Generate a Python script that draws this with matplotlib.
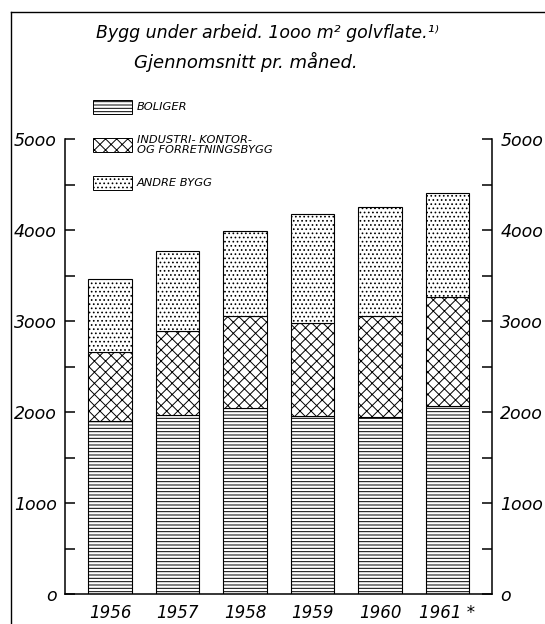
import numpy as np
import matplotlib
matplotlib.use("Agg")
import matplotlib.pyplot as plt
from matplotlib.patches import Rectangle
from matplotlib.lines import Line2D

# data (1000 m2 golvflate, gjennomsnitt pr. maned)
years = ["1956", "1957", "1958", "1959", "1960", "1961 *"]
boliger = [1900, 1970, 2040, 1955, 1945, 2065]
industri = [760, 925, 1015, 1025, 1110, 1195]
andre = [800, 875, 935, 1195, 1195, 1145]

plt.rcParams["font.family"] = ["DejaVu Sans"]
plt.rcParams["font.style"] = "italic"
plt.rcParams["hatch.linewidth"] = 0.7
plt.rcParams["hatch.color"] = "black"

W, H = 545, 624
fig = plt.figure(figsize=(W / 100, H / 100), dpi=100)

# axes box from pixel positions
left, right, top, bottom = 65, 492, 139, 594
ax = fig.add_axes([left / W, 1 - bottom / H, (right - left) / W, (bottom - top) / H])

x = np.arange(len(years))
bw = 0.65
b1 = np.array(boliger)
b2 = b1 + np.array(industri)

ax.bar(x, boliger, bw, color="white", edgecolor="black", linewidth=0.8, hatch="-----")
ax.bar(x, industri, bw, bottom=b1, color="white", edgecolor="black", linewidth=0.8, hatch="xxx")
ax.bar(x, andre, bw, bottom=b2, color="white", edgecolor="black", linewidth=0.8, hatch="....")

ax.set_xlim(-0.667, len(years) - 1 + 0.66)
ax.set_ylim(0, 5000)
ax.spines["top"].set_visible(False)
for s in ["left", "right", "bottom"]:
    ax.spines[s].set_linewidth(1.1)

ax.set_yticks([0, 1000, 2000, 3000, 4000, 5000])
ax.set_yticklabels(["o", "1ooo", "2ooo", "3ooo", "4ooo", "5ooo"], fontsize=12.5)
ax.set_yticks([500, 1500, 2500, 3500, 4500], minor=True)
ax.tick_params(axis="y", which="both", direction="in", length=7, width=1.1, pad=6,
               left=True, right=True, labelleft=True, labelright=True)
ax.tick_params(axis="x", length=0, pad=7, labelsize=12)
ax.set_xticks(x)
ax.set_xticklabels(years)

# title
fig.text(267 / W, 1 - 33 / H, "Bygg under arbeid. 1ooo m² golvflate.¹⁾",
         ha="center", va="center", fontsize=12.5)
fig.text(246 / W, 1 - 62 / H, "Gjennomsnitt pr. måned.",
         ha="center", va="center", fontsize=13)

# legend drawn by hand
leg = [("-----", "BOLIGER", 107),
       ("xxx", "INDUSTRI- KONTOR-\nOG FORRETNINGSBYGG", 145),
       ("....", "ANDRE BYGG", 183)]
for hatch, label, yc in leg:
    r = Rectangle((93 / W, 1 - (yc + 7) / H), 39 / W, 14 / H, transform=fig.transFigure,
                  facecolor="white", edgecolor="black", linewidth=0.7, hatch=hatch)
    fig.add_artist(r)
    fig.text(137 / W, 1 - yc / H, label, ha="left", va="center", fontsize=8.2,
             linespacing=1.1)

# frame around the figure
fig.add_artist(Line2D([11 / W, 11 / W], [0, 1 - 12 / H], transform=fig.transFigure,
                      color="black", linewidth=1.0))
fig.add_artist(Line2D([11 / W, 1], [1 - 12 / H, 1 - 12 / H], transform=fig.transFigure,
                      color="black", linewidth=1.0))

fig.savefig("out.png", dpi=100)
